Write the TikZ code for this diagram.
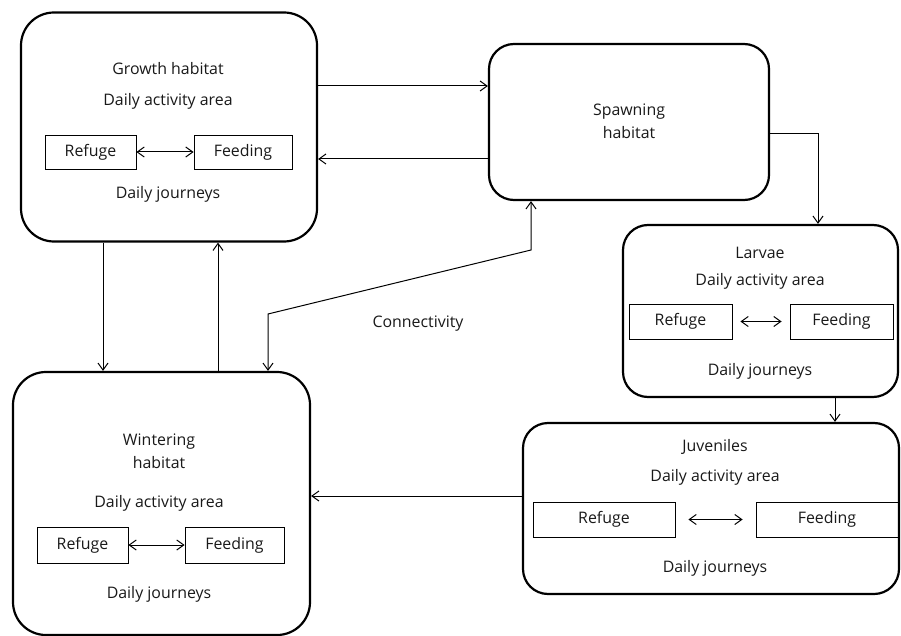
\documentclass[tikz,border=0pt]{standalone}
\usepackage{fontspec}
\setmainfont{Open Sans}
\usetikzlibrary{arrows.meta}
\begin{document}
\begin{tikzpicture}[x=1pt,y=-1pt,
  hab/.style={draw, line width=2.2pt, rounded corners=#1, inner sep=0pt},
  hab/.default=30pt,
  inbox/.style={draw, line width=0.8pt, inner sep=0pt, font=\fontsize{15.9}{23}\selectfont, text=black!90},
  lbl/.style={font=\fontsize{15.9}{23}\selectfont, text=black!90, align=center, inner sep=0pt},
  conn/.style={line width=1pt, -{Straight Barb[length=7pt,width=10pt,line width=1pt]}},
  dbl/.style={line width=1pt, {Straight Barb[length=7pt,width=10pt,line width=1pt]}-{Straight Barb[length=7pt,width=10pt,line width=1pt]}}
]
\useasboundingbox (0,0) rectangle (901,636);

% Growth habitat
\node[hab=33pt, minimum width=296pt, minimum height=229pt] (growth) at (169,127) {};
\node[lbl] (gT) at (168,69) {Growth habitat};
\node[lbl] (gA) at (168,101) {Daily activity area};
\node[inbox, minimum width=91pt, minimum height=34pt] (gR) at (90.5,152) {Refuge};
\node[inbox, minimum width=98pt, minimum height=34pt] (gF) at (243,152) {Feeding};
\draw[dbl] (gR) -- (gF);
\node[lbl] (gJ) at (168,194) {Daily journeys};

% Spawning habitat
\node[hab=25pt, minimum width=280pt, minimum height=156pt] (spawn) at (629,122) {};
\node[lbl] (sT) at (629,121) {Spawning\\habitat};

% Larvae
\node[hab=25pt, minimum width=275pt, minimum height=172pt] (larv) at (760.5,311) {};
\node[lbl] (lT) at (760,253) {Larvae};
\node[lbl] (lA) at (760,281) {Daily activity area};
\node[inbox, minimum width=103pt, minimum height=35pt] (lR) at (680.5,321.5) {Refuge};
\node[inbox, minimum width=103pt, minimum height=35pt] (lF) at (841.5,321.5) {Feeding};
\draw[dbl] ([xshift=8pt]lR.east) -- ([xshift=-8pt]lF.west);
\node[lbl] (lJ) at (760,371) {Daily journeys};

% Juveniles
\node[hab=25pt, minimum width=376pt, minimum height=171pt] (juv) at (711,508.5) {};
\node[lbl] (jT) at (715,447) {Juveniles};
\node[lbl] (jA) at (715,477) {Daily activity area};
\node[inbox, minimum width=142pt, minimum height=35pt] (jR) at (604,519.5) {Refuge};
\node[inbox, minimum width=142pt, minimum height=35pt] (jF) at (827,519.5) {Feeding};
\draw[dbl] ([xshift=13pt]jR.east) -- ([xshift=-13pt]jF.west);
\node[lbl] (jJ) at (715,568) {Daily journeys};

% Wintering habitat
\node[hab=33pt, minimum width=297pt, minimum height=263pt] (wint) at (161.5,503.5) {};
\node[lbl] (wT) at (159,451) {Wintering\\habitat};
\node[lbl] (wA) at (159,503) {Daily activity area};
\node[inbox, minimum width=91pt, minimum height=36pt] (wR) at (82.5,545) {Refuge};
\node[inbox, minimum width=99pt, minimum height=36pt] (wF) at (234.5,545) {Feeding};
\draw[dbl] (wR) -- (wF);
\node[lbl] (wJ) at (159,594) {Daily journeys};

% Connectors
\draw[conn] (growth.east |- 0,86) -- (spawn.west |- 0,86);
\draw[conn] (spawn.west |- 0,159) -- (growth.east |- 0,159);
\draw[conn] (spawn.east |- 0,134) -| (larv.north -| 818,0);
\draw[conn] (larv.south -| 835,0) -- (juv.north -| 835,0);
\draw[conn] (juv.west |- 0,496) -- (wint.east |- 0,496);
\draw[conn] (growth.south -| 103,0) -- (wint.north -| 103,0);
\draw[conn] (wint.north -| 218,0) -- (growth.south -| 218,0);
\coordinate (cA) at (531,250);
\coordinate (cB) at (268,314);
\draw[dbl] (spawn.south -| 531,0) -- (cA) -- (cB) -- (wint.north -| 268,0);
\node[lbl] (conlbl) at (418,324) {Connectivity};
\end{tikzpicture}
\end{document}
